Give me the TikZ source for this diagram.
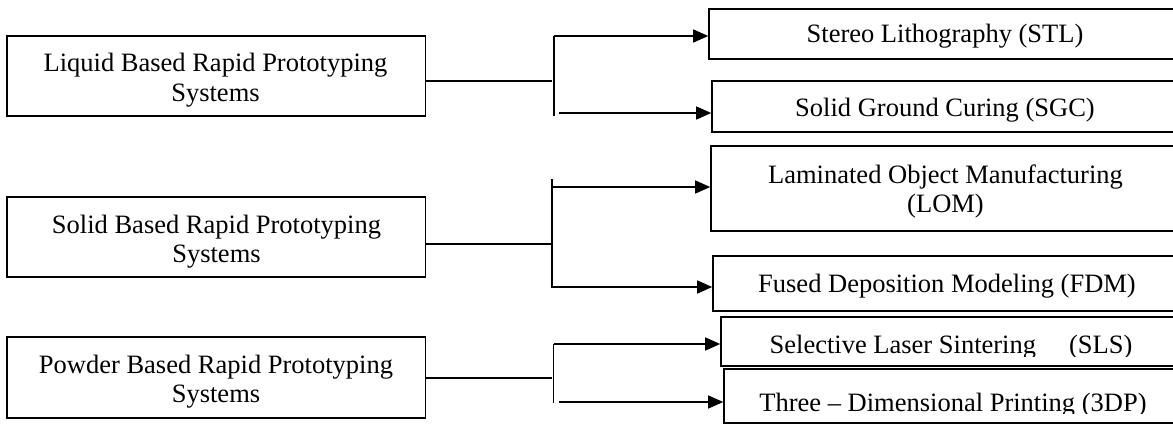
\documentclass[tikz,border=0pt]{standalone}
\usepackage{fontspec}
\setmainfont{Liberation Serif}
\usetikzlibrary{arrows.meta,calc}
\begin{document}
\begin{tikzpicture}[x=1pt,y=-1pt,
  box/.style={draw,line width=1.6pt,inner sep=0pt},
  conn/.style={line width=1.3pt},
  arr/.style={conn,-{Triangle[length=15pt,width=13pt]}},
  txt/.style={anchor=base,inner sep=0pt,font=\fontsize{26.5}{29}\selectfont}]
\useasboundingbox (0,0) rectangle (1173,425);
\clip (0,0) rectangle (1173,425);
% left boxes
\node[box,minimum width=418.5pt,minimum height=80pt] (liq) at (216.25,76) {};
\node[box,minimum width=418.5pt,minimum height=80pt] (sol) at (216.25,237) {};
\node[box,minimum width=418.5pt,minimum height=81pt] (pow) at (216.25,377.5) {};
\node[txt] (liqa) at (215.5,72) {Liquid Based Rapid Prototyping};
\node[txt] (liqb) at (215.5,102) {Systems};
\node[txt] (sola) at (216.5,233) {Solid Based Rapid Prototyping};
\node[txt] (solb) at (216.5,262) {Systems};
\node[txt] (powa) at (216,373) {Powder Based Rapid Prototyping};
\node[txt] (powb) at (216,402) {Systems};
% right boxes
\node[box,minimum width=481pt,minimum height=50pt] (stl) at (949.5,34) {};
\node[box,minimum width=478pt,minimum height=51pt] (sgc) at (951,106.5) {};
\node[box,minimum width=479pt,minimum height=85pt] (lom) at (950.5,188.5) {};
\node[box,minimum width=477pt,minimum height=55pt] (fdm) at (951.5,283.5) {};
\node[box,minimum width=469pt,minimum height=49pt] (sls) at (955.5,341.5) {};
\node[box,minimum width=466pt,minimum height=54pt] (tdp) at (957,396) {};
\node[txt] (stlt) at (945,43) {Stereo Lithography (STL)};
\node[txt] (sgct) at (945,117) {Solid Ground Curing (SGC)};
\node[txt] (lomta) at (945.5,183) {Laminated Object Manufacturing};
\node[txt] (lomtb) at (945.5,212) {(LOM)};
\node[txt] (fdmt) at (947,292) {Fused Deposition Modeling (FDM)};
\begin{scope}
\clip (sls.north west) rectangle (1173,356);
\node[txt] (slst) at (951,353) {Selective Laser Sintering\hspace{33pt}(SLS)};
\end{scope}
\begin{scope}
\clip (tdp.north west) rectangle (1173,413);
\node[txt] (tdpt) at (953,411) {Three – Dimensional Printing (3DP)};
\end{scope}
% connectors: liquid
\coordinate (j1) at (552,81);
\coordinate (v1t) at (554,36);
\coordinate (v1b) at (554,116);
\coordinate (b1) at (559,113);
\draw[conn] (liq.east |- j1) -- (j1);
\draw[conn] (v1t) -- (v1b);
\draw[arr] (v1t) -- (stl.west |- v1t);
\draw[arr] (b1) -- (sgc.west |- b1);
% connectors: solid
\coordinate (j2) at (552,244);
\coordinate (v2t) at (552,179);
\coordinate (v2b) at (552,288);
\coordinate (a2) at (552,187);
\coordinate (b2) at (552,287);
\draw[conn] (sol.east |- j2) -- (j2);
\draw[conn] (v2t) -- (v2b);
\draw[arr] (a2) -- (lom.west |- a2);
\draw[arr] (b2) -- (fdm.west |- b2);
% connectors: powder
\coordinate (j3) at (552,378);
\coordinate (v3t) at (553.5,344);
\coordinate (v3b) at (553.5,403);
\coordinate (b3) at (559,402);
\draw[conn] (pow.east |- j3) -- (j3);
\draw[conn] (v3t) -- (v3b);
\draw[arr] (v3t) -- (sls.west |- v3t);
\draw[arr] (b3) -- (tdp.west |- b3);
\end{tikzpicture}
\end{document}
